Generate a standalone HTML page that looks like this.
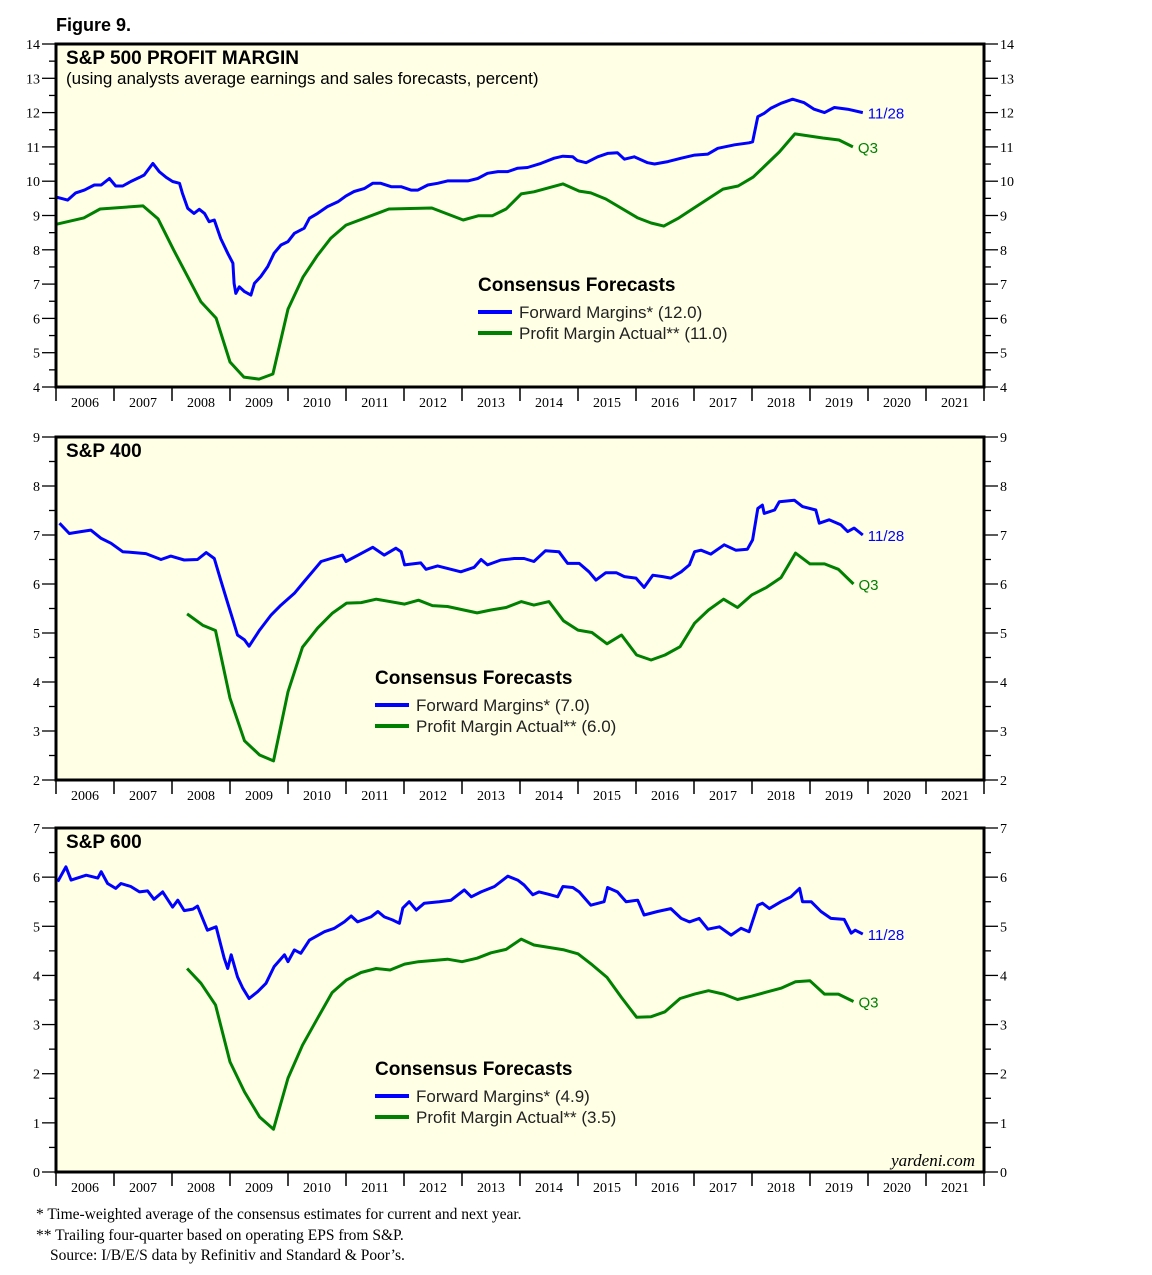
<!DOCTYPE html>
<html><head><meta charset="utf-8">
<style>
body{margin:0;background:#fff;}
svg{display:block;}
</style></head>
<body>
<svg id="chart" width="1152" height="1275" viewBox="0 0 1152 1275" xmlns="http://www.w3.org/2000/svg">
<text x="56" y="31" font-family="Liberation Sans, sans-serif" font-weight="bold" font-size="18">Figure 9.</text>
<g id="panels"></g>
<text x="975" y="1166" text-anchor="end" font-family="Liberation Serif, serif" font-style="italic" font-size="17">yardeni.com</text>
<g font-family="Liberation Serif, serif" font-size="15.5" fill="#000">
<text x="36" y="1219">*  Time-weighted average of the consensus estimates for current and next year.</text>
<text x="36" y="1240">** Trailing four-quarter based on operating EPS from S&amp;P.</text>
<text x="50" y="1260">Source: I/B/E/S data by Refinitiv and Standard &amp; Poor’s.</text>
</g>
</svg>
<script>
const years = [2006,2007,2008,2009,2010,2011,2012,2013,2014,2015,2016,2017,2018,2019,2020,2021];
// S&P 500
const sp500FwdX = [2006.02,2006.20,2006.34,2006.49,2006.66,2006.78,2006.92,2007.03,2007.15,2007.29,2007.44,2007.52,2007.67,2007.78,2007.90,2008.01,2008.13,2008.18,2008.27,2008.38,2008.47,2008.56,2008.64,2008.73,2008.84,2008.96,2009.05,2009.07,2009.10,2009.16,2009.25,2009.36,2009.42,2009.53,2009.65,2009.76,2009.88,2010.00,2010.11,2010.28,2010.37,2010.51,2010.68,2010.86,2011.00,2011.14,2011.32,2011.46,2011.60,2011.78,2011.95,2012.12,2012.24,2012.41,2012.58,2012.75,2012.93,2013.10,2013.27,2013.44,2013.62,2013.79,2013.96,2014.13,2014.36,2014.59,2014.74,2014.91,2014.99,2015.14,2015.34,2015.51,2015.68,2015.80,2015.97,2016.20,2016.32,2016.55,2016.78,2017.01,2017.24,2017.41,2017.70,2017.95,2018.01,2018.10,2018.21,2018.33,2018.50,2018.70,2018.90,2019.07,2019.25,2019.42,2019.65,2019.91];
const sp500FwdY = [9.53,9.45,9.66,9.74,9.89,9.89,10.08,9.86,9.86,9.99,10.11,10.18,10.52,10.28,10.11,9.99,9.94,9.65,9.21,9.06,9.18,9.06,8.82,8.87,8.33,7.90,7.61,7.02,6.73,6.92,6.78,6.68,7.02,7.22,7.51,7.90,8.14,8.24,8.48,8.63,8.92,9.06,9.26,9.40,9.57,9.70,9.79,9.94,9.94,9.84,9.84,9.74,9.74,9.89,9.94,10.01,10.01,10.01,10.08,10.23,10.28,10.28,10.38,10.40,10.52,10.67,10.73,10.71,10.60,10.54,10.71,10.81,10.83,10.64,10.71,10.54,10.50,10.57,10.67,10.76,10.79,10.96,11.06,11.12,11.15,11.88,11.98,12.13,12.27,12.39,12.29,12.10,12.00,12.15,12.10,12.00];
const sp500ActX = [2006.02,2006.48,2006.76,2007.50,2007.76,2008.03,2008.50,2008.76,2009.00,2009.24,2009.50,2009.74,2010.00,2010.26,2010.50,2010.74,2011.00,2011.74,2012.48,2013.02,2013.28,2013.52,2013.76,2014.02,2014.24,2014.74,2015.02,2015.22,2015.48,2016.03,2016.26,2016.48,2016.74,2017.00,2017.50,2017.76,2018.02,2018.47,2018.74,2019.22,2019.50,2019.74];
const sp500ActY = [8.75,8.93,9.19,9.28,8.90,7.99,6.48,6.01,4.73,4.29,4.23,4.38,6.27,7.21,7.82,8.34,8.72,9.19,9.22,8.87,8.99,8.99,9.19,9.63,9.69,9.92,9.71,9.66,9.48,8.93,8.78,8.69,8.93,9.22,9.77,9.86,10.12,10.85,11.38,11.26,11.20,11.00];
const sp500Ticks = [4,5,6,7,8,9,10,11,12,13,14];
// S&P 400
const sp400FwdX = [2006.06,2006.23,2006.43,2006.60,2006.78,2006.95,2007.15,2007.35,2007.55,2007.81,2007.98,2008.21,2008.44,2008.59,2008.73,2008.84,2008.96,2009.05,2009.13,2009.25,2009.33,2009.51,2009.71,2009.88,2010.11,2010.28,2010.45,2010.57,2010.74,2010.94,2011.00,2011.21,2011.46,2011.66,2011.86,2011.95,2012.01,2012.29,2012.38,2012.58,2012.98,2013.21,2013.33,2013.44,2013.67,2013.90,2014.07,2014.24,2014.44,2014.67,2014.82,2015.02,2015.19,2015.31,2015.48,2015.66,2015.80,2016.00,2016.14,2016.29,2016.46,2016.60,2016.78,2016.92,2017.01,2017.12,2017.29,2017.52,2017.72,2017.92,2018.01,2018.10,2018.18,2018.21,2018.39,2018.47,2018.73,2018.87,2019.10,2019.16,2019.33,2019.53,2019.65,2019.76,2019.91];
const sp400FwdY = [7.24,7.03,7.07,7.10,6.93,6.83,6.66,6.64,6.62,6.50,6.57,6.49,6.50,6.64,6.52,6.08,5.61,5.27,4.96,4.86,4.73,5.06,5.37,5.57,5.81,6.05,6.29,6.46,6.52,6.59,6.46,6.59,6.75,6.59,6.73,6.66,6.39,6.43,6.30,6.37,6.25,6.34,6.50,6.39,6.49,6.52,6.52,6.46,6.68,6.66,6.42,6.42,6.25,6.08,6.23,6.23,6.15,6.12,5.93,6.18,6.15,6.12,6.25,6.39,6.66,6.69,6.61,6.80,6.69,6.71,6.90,7.54,7.61,7.44,7.51,7.68,7.71,7.58,7.51,7.24,7.31,7.21,7.07,7.14,7.00];
const sp400ActX = [2008.26,2008.53,2008.75,2009.00,2009.25,2009.51,2009.75,2010.00,2010.25,2010.51,2010.76,2011.01,2011.26,2011.52,2012.01,2012.25,2012.49,2012.75,2013.26,2013.50,2013.76,2014.02,2014.24,2014.50,2014.75,2015.00,2015.24,2015.50,2015.75,2016.01,2016.26,2016.50,2016.76,2017.01,2017.25,2017.51,2017.75,2018.00,2018.25,2018.50,2018.75,2019.00,2019.25,2019.49,2019.75];
const sp400ActY = [5.39,5.16,5.05,3.67,2.80,2.51,2.39,3.80,4.71,5.10,5.40,5.61,5.62,5.69,5.59,5.67,5.56,5.54,5.41,5.47,5.52,5.64,5.57,5.64,5.25,5.06,5.01,4.78,4.96,4.55,4.45,4.55,4.72,5.20,5.47,5.69,5.52,5.78,5.93,6.13,6.63,6.41,6.41,6.30,6.00];
const sp400Ticks = [2,3,4,5,6,7,8,9];
// S&P 600
const sp600FwdX = [2006.03,2006.17,2006.26,2006.52,2006.72,2006.78,2006.89,2007.03,2007.12,2007.29,2007.44,2007.58,2007.69,2007.84,2008.01,2008.10,2008.21,2008.36,2008.44,2008.61,2008.76,2008.90,2008.96,2009.02,2009.13,2009.22,2009.33,2009.48,2009.62,2009.76,2009.94,2010.00,2010.11,2010.22,2010.37,2010.63,2010.80,2010.97,2011.09,2011.20,2011.43,2011.55,2011.66,2011.80,2011.92,2011.98,2012.09,2012.21,2012.35,2012.61,2012.81,2013.04,2013.16,2013.33,2013.56,2013.79,2013.96,2014.07,2014.22,2014.33,2014.47,2014.65,2014.74,2014.91,2015.02,2015.22,2015.45,2015.51,2015.68,2015.83,2016.03,2016.14,2016.37,2016.60,2016.78,2016.92,2017.09,2017.24,2017.44,2017.64,2017.81,2017.95,2018.10,2018.18,2018.30,2018.50,2018.67,2018.82,2018.87,2019.02,2019.19,2019.36,2019.59,2019.71,2019.78,2019.91];
const sp600FwdY = [5.91,6.21,5.94,6.04,5.98,6.11,5.87,5.77,5.87,5.81,5.70,5.72,5.55,5.70,5.39,5.53,5.32,5.35,5.41,4.92,4.99,4.35,4.14,4.42,3.97,3.74,3.53,3.67,3.84,4.18,4.42,4.28,4.52,4.45,4.72,4.89,4.96,5.09,5.21,5.09,5.19,5.30,5.19,5.13,5.06,5.37,5.50,5.33,5.47,5.50,5.53,5.74,5.60,5.70,5.81,6.02,5.94,5.84,5.64,5.70,5.66,5.60,5.81,5.79,5.70,5.43,5.50,5.79,5.70,5.50,5.53,5.23,5.30,5.36,5.16,5.09,5.16,4.94,4.99,4.82,4.96,4.89,5.43,5.47,5.36,5.50,5.60,5.77,5.50,5.50,5.30,5.16,5.14,4.86,4.92,4.84];
const sp600ActX = [2008.26,2008.50,2008.75,2009.00,2009.25,2009.51,2009.75,2010.00,2010.25,2010.51,2010.76,2011.01,2011.26,2011.52,2011.76,2012.01,2012.25,2012.75,2013.00,2013.26,2013.50,2013.76,2014.02,2014.24,2014.76,2015.00,2015.25,2015.50,2015.75,2016.01,2016.26,2016.50,2016.76,2017.01,2017.25,2017.51,2017.75,2018.00,2018.25,2018.50,2018.75,2019.00,2019.25,2019.49,2019.75];
const sp600ActY = [4.14,3.84,3.40,2.24,1.63,1.12,0.87,1.91,2.58,3.13,3.65,3.91,4.06,4.14,4.11,4.23,4.28,4.33,4.28,4.35,4.46,4.53,4.74,4.62,4.52,4.44,4.21,3.96,3.55,3.15,3.16,3.26,3.53,3.62,3.69,3.62,3.51,3.58,3.66,3.74,3.87,3.89,3.62,3.62,3.47];
const sp600Ticks = [0,1,2,3,4,5,6,7];

const NS = 'http://www.w3.org/2000/svg';
const root = document.getElementById('panels');
const L = 56, R = 984, X0 = 2006, X1 = 2022;
function xs(v){ return L + (v - X0) / (X1 - X0) * (R - L); }
function mk(tag, attrs, parent){
  const e = document.createElementNS(NS, tag);
  for (const k in attrs) e.setAttribute(k, attrs[k]);
  parent.appendChild(e);
  return e;
}
function panel(key, top, bot, ticks, fx, fy, ax, ay, title, sub, legX, legY, fwdLabel, actLabel){
  const lo = ticks[0], hi = ticks[ticks.length-1];
  const ys = v => bot - (v - lo) / (hi - lo) * (bot - top);
  const g = mk('g', {}, root);
  
  
  const bg = mk('rect', {x:L, y:top, width:R-L, height:bot-top, fill:'#ffffe6', stroke:'none'}, g);
  
  
  for (let i = 0; i < ticks.length; i++){
    const t = ticks[i], y = ys(t);
    mk('line', {x1:L-14, x2:L, y1:y, y2:y, stroke:'#000', 'stroke-width':1.3}, g);
    mk('line', {x1:R, x2:R+14, y1:y, y2:y, stroke:'#000', 'stroke-width':1.3}, g);
    const tl = mk('text', {x:L-16, y:y+5, 'text-anchor':'end', 'font-family':'Liberation Serif, serif', 'font-size':14}, g);
    tl.textContent = t;
    
    
    const tr = mk('text', {x:R+16, y:y+5, 'font-family':'Liberation Serif, serif', 'font-size':14}, g);
    tr.textContent = t;
    
    
    if (i < ticks.length-1){
      const ym = ys(t + (ticks[i+1]-t)/2);
      mk('line', {x1:L-7, x2:L, y1:ym, y2:ym, stroke:'#000', 'stroke-width':1.3}, g);
      mk('line', {x1:R, x2:R+7, y1:ym, y2:ym, stroke:'#000', 'stroke-width':1.3}, g);
    }
  }
  for (let i = 0; i < years.length; i++){
    const x = xs(years[i]);
    if (i > 0) mk('line', {x1:x, x2:x, y1:bot, y2:bot+14, stroke:'#000', 'stroke-width':1.5}, g);
    const xl = mk('text', {x:xs(years[i]+0.5), y:bot+20, 'text-anchor':'middle', 'font-family':'Liberation Serif, serif', 'font-size':14}, g);
    xl.textContent = years[i];
    
    
  }
  mk('line', {x1:R, x2:R, y1:bot, y2:bot+14, stroke:'#000', 'stroke-width':1.5}, g);
  mk('line', {x1:L, x2:L, y1:bot, y2:bot+14, stroke:'#000', 'stroke-width':1.5}, g);
  let d = '';
  for (let i = 0; i < ax.length; i++) d += (i ? 'L' : 'M') + xs(ax[i]).toFixed(1) + ',' + ys(ay[i]).toFixed(1);
  const pa = mk('path', {d:d, fill:'none', stroke:'#008000', 'stroke-width':3, 'stroke-linejoin':'round'}, g);
  
  
  d = '';
  for (let i = 0; i < fx.length; i++) d += (i ? 'L' : 'M') + xs(fx[i]).toFixed(1) + ',' + ys(fy[i]).toFixed(1);
  const pf = mk('path', {d:d, fill:'none', stroke:'#0000ff', 'stroke-width':3, 'stroke-linejoin':'round'}, g);
  
  
  const e1 = mk('text', {x:xs(fx[fx.length-1])+5, y:ys(fy[fy.length-1])+6, fill:'#0000ff', 'font-family':'Liberation Sans, sans-serif', 'font-size':15}, g);
  e1.textContent = '11/28';
  
  
  const e2 = mk('text', {x:xs(ax[ax.length-1])+5, y:ys(ay[ay.length-1])+6, fill:'#008000', 'font-family':'Liberation Sans, sans-serif', 'font-size':15}, g);
  e2.textContent = 'Q3';
  
  
  mk('rect', {x:L, y:top, width:R-L, height:bot-top, fill:'none', stroke:'#000', 'stroke-width':3}, g);
  const t1 = mk('text', {x:66, y:top+20, 'font-family':'Liberation Sans, sans-serif', 'font-weight':'bold', 'font-size':19}, g);
  t1.textContent = title;
  
  
  if (sub){
    const t2 = mk('text', {x:66, y:top+40, 'font-family':'Liberation Sans, sans-serif', 'font-size':17}, g);
    t2.textContent = sub;
    
    
  }
  const lg = mk('g', {}, g);
  
  
  const lt = mk('text', {x:legX, y:legY+7, 'font-family':'Liberation Sans, sans-serif', 'font-weight':'bold', 'font-size':19}, lg);
  lt.textContent = 'Consensus Forecasts';
  mk('line', {x1:legX, x2:legX+34, y1:legY+28, y2:legY+28, stroke:'#0000ff', 'stroke-width':4}, lg);
  const l1 = mk('text', {x:legX+41, y:legY+34, 'font-family':'Liberation Sans, sans-serif', 'font-size':17, fill:'#222'}, lg);
  l1.textContent = fwdLabel;
  
  
  mk('line', {x1:legX, x2:legX+34, y1:legY+49, y2:legY+49, stroke:'#008000', 'stroke-width':4}, lg);
  const l2 = mk('text', {x:legX+41, y:legY+55, 'font-family':'Liberation Sans, sans-serif', 'font-size':17, fill:'#222'}, lg);
  l2.textContent = actLabel;
  
  
}
panel('sp500', 44, 387, sp500Ticks, sp500FwdX, sp500FwdY, sp500ActX, sp500ActY, 'S&P 500 PROFIT MARGIN', '(using analysts average earnings and sales forecasts, percent)', 478, 284, 'Forward Margins* (12.0)', 'Profit Margin Actual** (11.0)');
panel('sp400', 437, 780, sp400Ticks, sp400FwdX, sp400FwdY, sp400ActX, sp400ActY, 'S&P 400', '', 375, 677, 'Forward Margins* (7.0)', 'Profit Margin Actual** (6.0)');
panel('sp600', 828, 1172, sp600Ticks, sp600FwdX, sp600FwdY, sp600ActX, sp600ActY, 'S&P 600', '', 375, 1068, 'Forward Margins* (4.9)', 'Profit Margin Actual** (3.5)');
</script>
</body></html>
